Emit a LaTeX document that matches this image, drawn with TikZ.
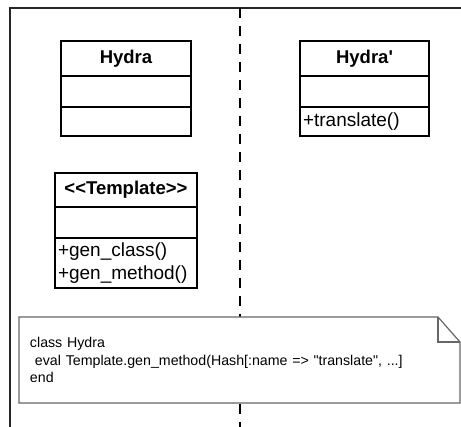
\documentclass[tikz,border=0pt]{standalone}
\usepackage{fontspec}
\setmainfont{Liberation Sans}
\usetikzlibrary{positioning,calc}

\begin{document}
\begin{tikzpicture}[x=1pt,y=-1pt,
    classhead/.style={draw, line width=1.5pt, outer sep=0pt, inner sep=0pt,
        minimum height=35, font=\fontsize{18.5}{22}\selectfont\bfseries},
    classattr/.style={draw, line width=1.5pt, outer sep=0pt, inner sep=0pt, minimum height=31},
    classops/.style={draw, line width=1.5pt, outer sep=0pt, inner xsep=3pt, inner ysep=0pt,
        align=left, font=\fontsize{19}{23}\selectfont},
    notebox/.style={fill=white, outer sep=0pt, inner xsep=11pt, inner ysep=0pt,
        minimum width=441, minimum height=86, text width=419, align=left,
        font=\fontsize{14.2}{17.5}\selectfont},
    noteline/.style={draw=black!60, line width=1.2pt},
    frameline/.style={draw=black!85, line width=2.2pt},
    lifeline/.style={line width=1.5pt, dash pattern=on 10pt off 8pt}]
    \useasboundingbox (0,0) rectangle (461,427);
    \draw[frameline] (461,8) -- (10,8) -- (10,427);
    \draw[lifeline] (240,8) -- (240,427);

    \node[classhead, minimum width=130] (hydra) at (126,58.5) {Hydra};
    \node[classattr, minimum width=130, below=0pt of hydra] (hydraattr) {};
    \node[classattr, minimum width=130, minimum height=29, below=0pt of hydraattr] (hydraops) {};

    \node[classhead, minimum width=129] (hydrap) at (364.5,58.5) {Hydra\textquotesingle};
    \node[classattr, minimum width=129, below=0pt of hydrap] (hydrapattr) {};
    \node[classops, text width=123, minimum height=29, below=0pt of hydrapattr] (hydrapops) {+translate()};

    \node[classhead, minimum width=142, minimum height=34] (tmpl) at (126,190) {<{}<Template>{}>};
    \node[classattr, minimum width=142, below=0pt of tmpl] (tmplattr) {};
    \node[classops, text width=136, minimum height=50, below=0pt of tmplattr] (tmplops)
        {+gen\_class()\\+gen\_method()};

    \node[notebox] (code) at (239.5,360)
        {class Hydra\\\hspace*{5pt}eval Template.gen\_method(Hash[:name => \textquotedbl translate\textquotedbl, ...]\\end};
    \draw[noteline] (code.north west) -- ($(code.north east)+(-22,0)$) -- ($(code.north east)+(0,25)$)
        -- (code.south east) -- (code.south west) -- cycle;
    \draw[noteline] ($(code.north east)+(-22,0)$) -- ($(code.north east)+(-22,25)$) -- ($(code.north east)+(0,25)$);
\end{tikzpicture}
\end{document}
